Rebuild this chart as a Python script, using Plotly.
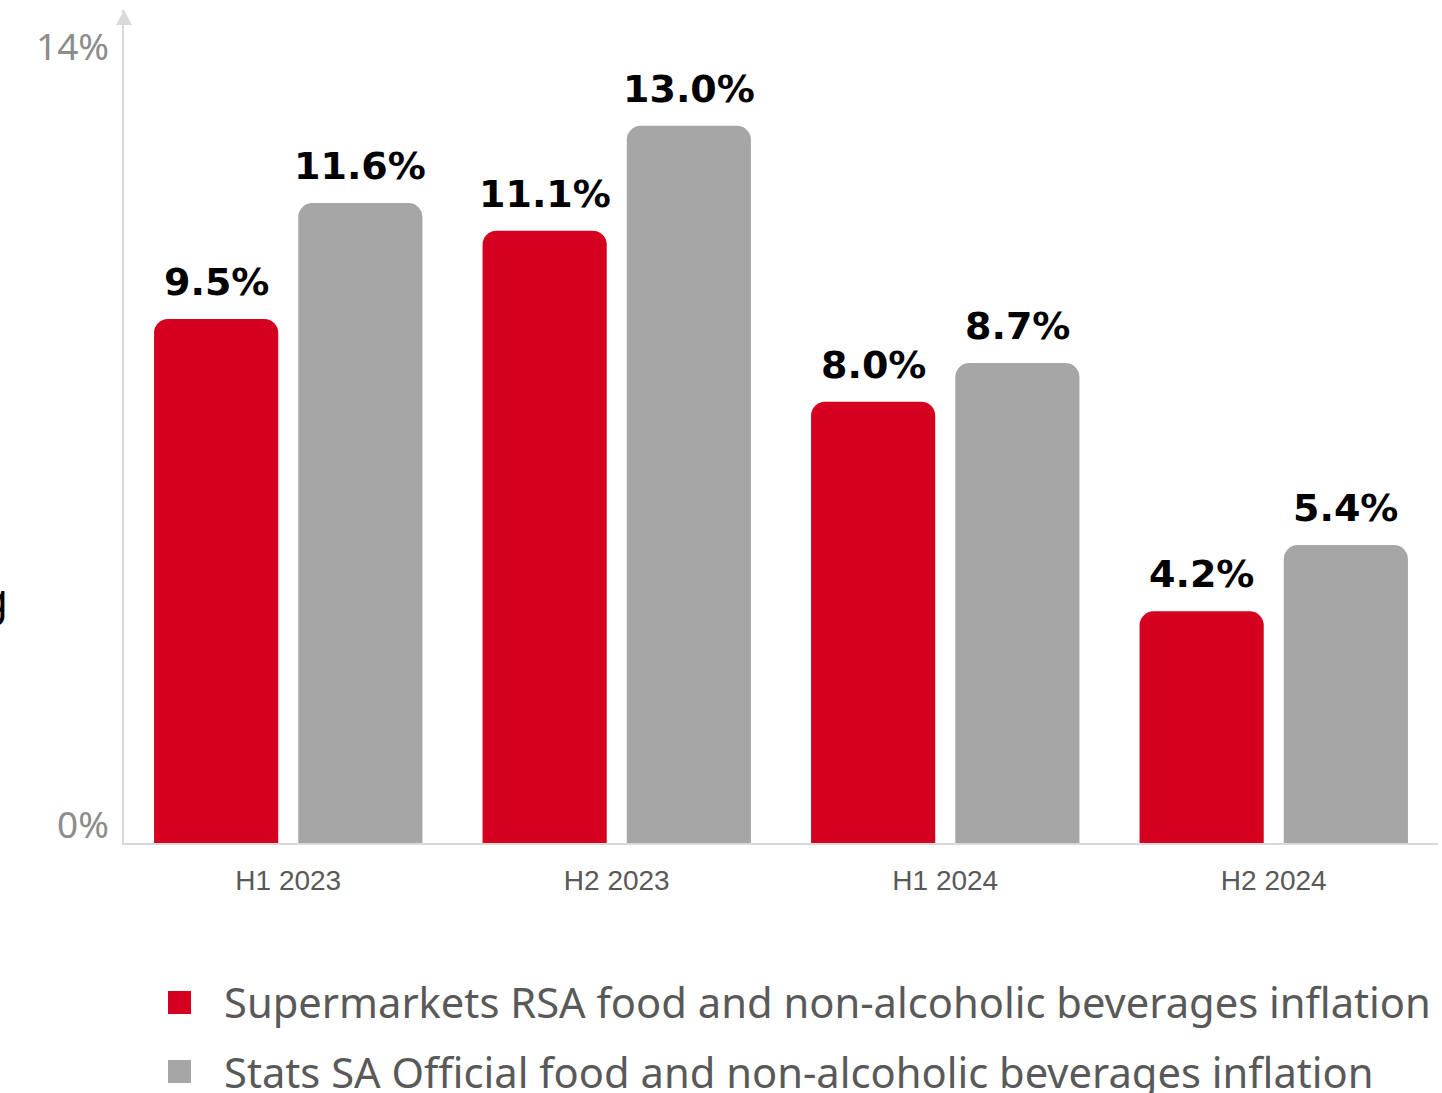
import plotly.graph_objects as go

categories = ["H1 2023", "H2 2023", "H1 2024", "H2 2024"]
supermarkets_values = [9.5, 11.1, 8.0, 4.2]
statssa_values = [11.6, 13.0, 8.7, 5.4]
series_names = [
    "Supermarkets RSA food and non-alcoholic beverages inflation",
    "Stats SA Official food and non-alcoholic beverages inflation",
]
y_tick_vals = [0, 14]
y_tick_text = ["0%", "14%"]

RED = "#D5001F"
GRAY = "#A6A6A6"
AXIS = "#D9D9D9"

W, H = 1442, 1093
ML, MR, MT, MB = 124, 4, 10, 250
PW, PH = W - ML - MR, H - MT - MB


def px_x(px):
    return (px - ML) / PW


def px_y(py):
    return (H - MB - py) / PH


fig = go.Figure()
fig.add_trace(go.Bar(x=categories, y=supermarkets_values, name=series_names[0],
                     marker=dict(color=RED, cornerradius=14, line=dict(width=0)),
                     showlegend=False, hoverinfo="skip"))
fig.add_trace(go.Bar(x=categories, y=statssa_values, name=series_names[1],
                     marker=dict(color=GRAY, cornerradius=14, line=dict(width=0)),
                     showlegend=False, hoverinfo="skip"))

annotations = []
label_font = dict(family="DejaVu Sans", size=38, color="#000000", weight="bold")
for vals, shift in ((supermarkets_values, -72), (statssa_values, 72)):
    for c, v in zip(categories, vals):
        annotations.append(dict(x=c, y=v, xref="x", yref="y", text=f"{v:.1f}%",
                                showarrow=False, xshift=shift, yshift=37,
                                yanchor="middle", xanchor="center", font=label_font))

for v, t, ys in zip(y_tick_vals, y_tick_text, (20, 25)):
    annotations.append(dict(x=0, y=v, xref="paper", yref="y", text=t, showarrow=False,
                            xanchor="right", yanchor="middle", xshift=-13, yshift=ys,
                            font=dict(family="Noto Sans", size=37, color="#8C8C8C")))

# legend (manual)
shapes = []
legend_colors = [RED, GRAY]
legend_rows = [1002, 1071]
for name, col, cy in zip(series_names, legend_colors, legend_rows):
    shapes.append(dict(type="rect", xref="paper", yref="paper",
                       x0=px_x(168), x1=px_x(191), y0=px_y(cy - 11), y1=px_y(cy + 12),
                       fillcolor=col, line=dict(width=0)))
    annotations.append(dict(x=px_x(222), y=px_y(cy), xref="paper", yref="paper",
                            text=name, showarrow=False, xanchor="left", yanchor="middle",
                            font=dict(family="Noto Sans", size=41.7, color="#595959")))

# clipped glyph at left edge
annotations.append(dict(x=px_x(-6), y=px_y(598), xref="paper", yref="paper", text="g",
                        showarrow=False, xanchor="center", yanchor="middle",
                        font=dict(family="Noto Sans", size=44, color="#000000")))

# arrowhead on y axis
shapes.append(dict(type="path", xref="paper", yref="paper", xsizemode="pixel",
                   ysizemode="pixel", xanchor=0, yanchor=1,
                   path="M-8,-15 L8,-15 L0,0 Z", fillcolor=AXIS, line=dict(width=0)))

fig.update_layout(
    width=W, height=H,
    margin=dict(l=ML, r=MR, t=MT, b=MB, pad=0),
    paper_bgcolor="white", plot_bgcolor="white",
    barmode="group", bargap=0.122, bargroupgap=0.139,
    annotations=annotations, shapes=shapes,
    xaxis=dict(type="category", range=[-0.5, 3.5], showline=True, linecolor=AXIS,
               linewidth=2, ticks="", showgrid=False, zeroline=False,
               tickfont=dict(family="Liberation Sans", size=28, color="#595959"),
               ticklabelstandoff=11),
    yaxis=dict(range=[0, 15.1], showline=True, linecolor=AXIS, linewidth=2,
               showticklabels=False, showgrid=False, zeroline=False, ticks=""),
    showlegend=False,
)

fig.write_html("out.html")
